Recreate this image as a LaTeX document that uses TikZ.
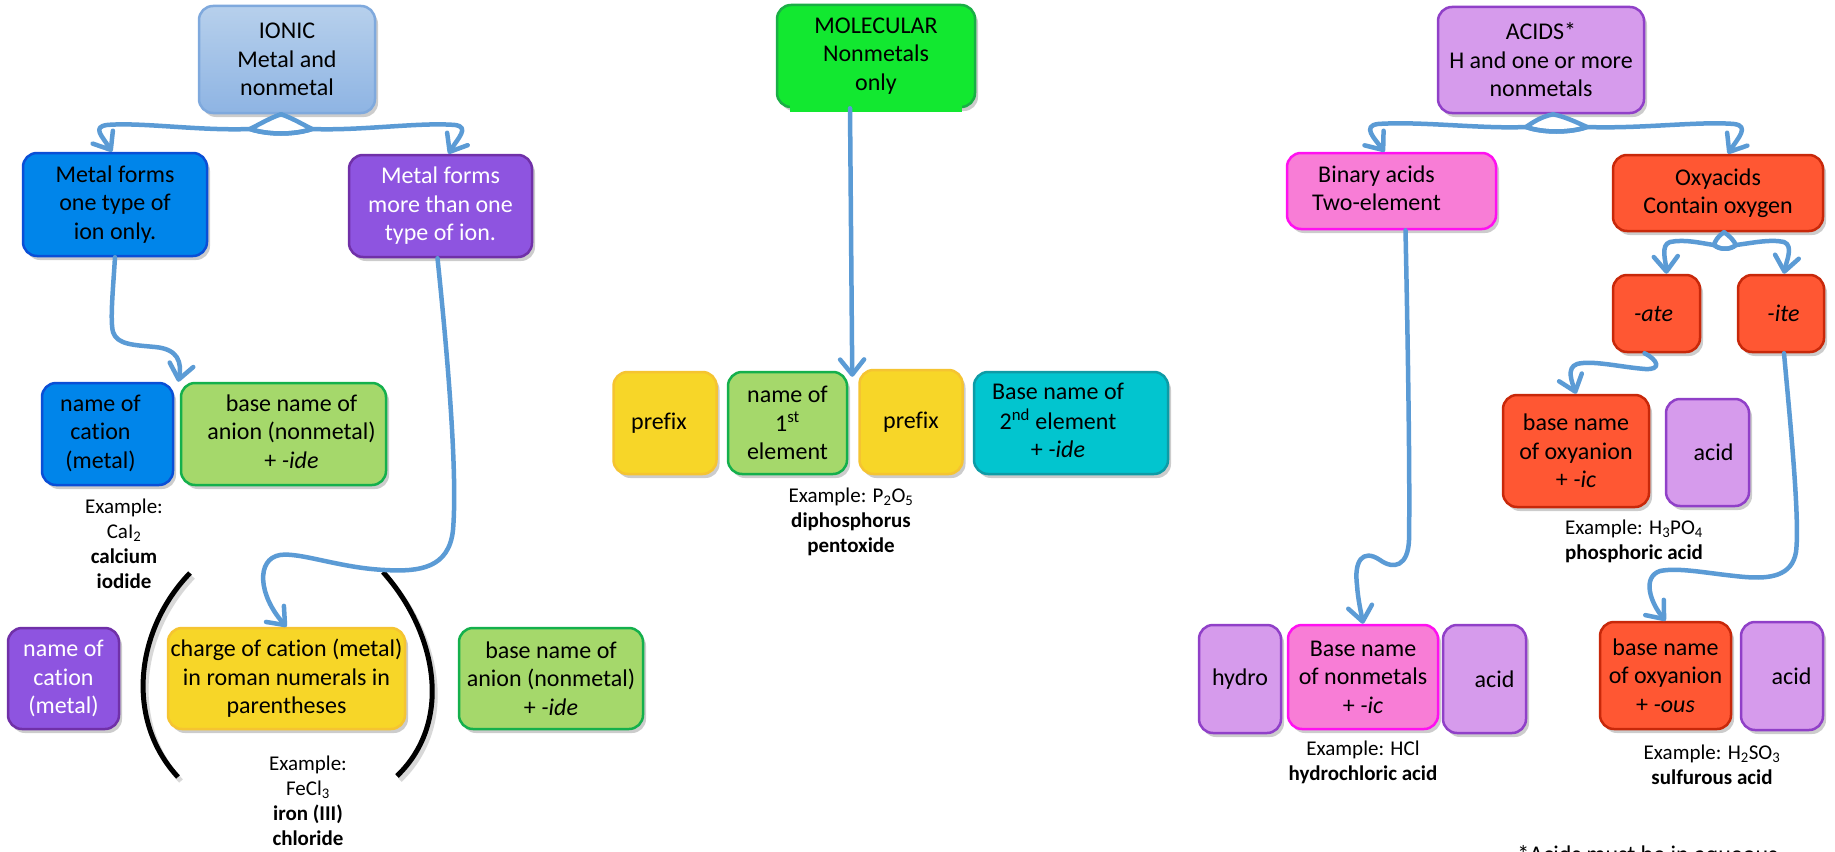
\documentclass[tikz,border=0pt]{standalone}
\usepackage{fontspec}
\setmainfont{Carlito}[Ligatures={TeX,NoCommon}]
\usetikzlibrary{arrows.meta,shadows,calc}
\definecolor{arrowblue}{HTML}{5B9BD5}
\definecolor{ionTop}{HTML}{B7D0EC}
\definecolor{ionBot}{HTML}{8EB4E3}
\definecolor{ionLine}{HTML}{7FA9DD}
\definecolor{bluF}{HTML}{0085EA}
\definecolor{bluL}{HTML}{0A4FD6}
\definecolor{purF}{HTML}{8E54E0}
\definecolor{purL}{HTML}{7030A8}
\definecolor{grnF}{HTML}{A5D86B}
\definecolor{grnL}{HTML}{14B04C}
\definecolor{yelF}{HTML}{F7D628}
\definecolor{yelL}{HTML}{F5C431}
\definecolor{molF}{HTML}{12E830}
\definecolor{molL}{HTML}{1AAE45}
\definecolor{cyaF}{HTML}{02C5CF}
\definecolor{cyaL}{HTML}{0E9BA6}
\definecolor{lavF}{HTML}{D69BEC}
\definecolor{lavL}{HTML}{9040C8}
\definecolor{pnkF}{HTML}{F87DD6}
\definecolor{pnkL}{HTML}{FF10F0}
\definecolor{orgF}{HTML}{FF5733}
\definecolor{orgL}{HTML}{C8280A}
\tikzset{
  box/.style={draw, rounded corners=14pt, line width=2.5pt, align=center, inner sep=1pt,
    font=\fontsize{24}{28.5}\selectfont,
    drop shadow={shadow xshift=3pt, shadow yshift=-4pt, opacity=0.2, fill=black}},
  sz/.style 2 args={minimum width=#1, minimum height=#2},
  ionicbox/.style={box, top color=ionTop, bottom color=ionBot, draw=ionLine},
  bluebox/.style={box, fill=bluF, draw=bluL},
  purbox/.style={box, fill=purF, draw=purL, text=white},
  grnbox/.style={box, fill=grnF, draw=grnL},
  yelbox/.style={box, fill=yelF, draw=yelL},
  molbox/.style={box, fill=molF, draw=molL},
  cyabox/.style={box, fill=cyaF, draw=cyaL},
  lavbox/.style={box, fill=lavF, draw=lavL},
  pnkbox/.style={box, fill=pnkF, draw=pnkL},
  orgbox/.style={box, fill=orgF, draw=orgL},
  ex/.style={align=center, inner sep=0pt, font=\fontsize{21}{25}\selectfont},
  flow/.style={draw=arrowblue, line width=4.5pt, line cap=round, line join=round},
  tip/.style={flow, -{Straight Barb[length=15pt,width=24pt,round]}},
  paren/.style={draw=black, line width=5pt, line cap=butt}
}
\begin{document}
\begin{tikzpicture}[x=1pt,y=-1pt]
\useasboundingbox (0,0) rectangle (1835,851);
\fill[white] (0,0) rectangle (1835,851);
\clip (0,0) rectangle (1835,851);

% ---------- IONIC ----------
\node[ionicbox, sz={176pt}{107pt}] (ionic) at (287,59.5) {IONIC\\Metal and\\nonmetal};
\node[bluebox, sz={184pt}{103pt}] (m1) at (115,204.5) {Metal forms\\one type of\\ion only.};
\node[purbox, sz={183pt}{102pt}] (m2) at (440.5,206) {Metal forms\\more than one\\type of ion.};
\node[bluebox, sz={131pt}{102pt}] (cat1) at (107.5,434) {\begin{tabular}{@{}c@{}}name of\\cation\\(metal)\end{tabular}\hspace*{14pt}};
\node[grnbox, sz={205pt}{102pt}] (an1) at (283.5,434) {\hspace*{16pt}\begin{tabular}{@{}c@{}}base name of\\anion (nonmetal)\\+ \textit{-ide}\end{tabular}};
\node[ex] (ex1) at (124,544) {Example:\\CaI\textsubscript{2}\\\textbf{calcium}\\\textbf{iodide}};
\node[purbox, sz={111pt}{101pt}] (cat2) at (63.5,678.5) {name of\\cation\\(metal)};
\node[yelbox, sz={237pt}{101pt}] (chg) at (286.5,678.5) {charge of cation (metal)\\in roman numerals in\\parentheses};
\node[grnbox, sz={184pt}{101pt}] (an2) at (551,678.5) {base name of\\anion (nonmetal)\\+ \textit{-ide}};
\node[ex] (ex2) at (308,801) {Example:\\FeCl\textsubscript{3}\\\textbf{iron (III)}\\\textbf{chloride}};

% parentheses
\draw[paren, draw=black!25, opacity=0.6] (193,577) .. controls (138,634) and (128,724) .. (181,781);
\draw[paren, draw=black!25, opacity=0.6] (386,576) .. controls (438,634) and (458,724) .. (400,780);
\draw[paren] (190,573) .. controls (135,630) and (125,720) .. (178,777);
\draw[paren] (383,572) .. controls (435,630) and (455,720) .. (397,776);

% ---------- MOLECULAR ----------
\node[molbox, sz={198pt}{102pt}] (mol) at (876,56) {MOLECULAR\\Nonmetals\\only};
\fill[molF] (790,96) rectangle (962,112);
\node[yelbox, sz={103pt}{102pt}] (p1) at (665,423) {prefix\hspace*{12pt}};
\node[grnbox, sz={119pt}{102pt}] (n1) at (787.5,423) {name of\\1\textsuperscript{st}\\element};
\node[yelbox, sz={103pt}{104pt}] (p2) at (911,422) {prefix};
\node[cyabox, sz={194pt}{102pt}] (b2) at (1071,423) {\begin{tabular}{@{}c@{}}Base name of\\2\textsuperscript{nd} element\\+ \textit{-ide}\end{tabular}\hspace*{26pt}};
\node[ex] (ex3) at (851,522) {Example: P\textsubscript{2}O\textsubscript{5}\\\textbf{diphosphorus}\\\textbf{pentoxide}};

% ---------- ACIDS ----------
\node[lavbox, sz={206pt}{106pt}] (acids) at (1541,60) {ACIDS*\\H and one or more\\nonmetals};
\node[pnkbox, sz={209pt}{76pt}] (bin) at (1391.5,191) {\begin{tabular}{@{}c@{}}Binary acids\\Two-element\end{tabular}\hspace*{30pt}};
\node[orgbox, sz={210pt}{76pt}] (oxy) at (1718,193) {Oxyacids\\Contain oxygen};
\node[orgbox, sz={87pt}{77pt}] (ate) at (1656.5,313.5) {\textit{-ate}\hspace*{6pt}};
\node[orgbox, sz={86pt}{77pt}] (ite) at (1781,313.5) {\hspace*{5pt}\textit{-ite}};
\node[orgbox, sz={146pt}{112pt}] (bic) at (1576,451) {base name\\of oxyanion\\+ \textit{-ic}};
\node[lavbox, sz={83pt}{107pt}] (acid1) at (1707.5,452.5) {\hspace*{12pt}acid};
\node[ex] (ex4) at (1634,541) {Example: H\textsubscript{3}PO\textsubscript{4}\\\textbf{phosphoric acid}};
\node[lavbox, sz={82pt}{108pt}] (hydro) at (1240,679) {hydro};
\node[pnkbox, sz={150pt}{104pt}] (bnm) at (1363,677) {Base name\\of nonmetals\\+ \textit{-ic}};
\node[lavbox, sz={83pt}{108pt}] (acid2) at (1484.5,679) {\hspace*{20pt}acid};
\node[ex] (ex5) at (1363,762) {Example: HCl\\\textbf{hydrochloric acid}};
\node[orgbox, sz={131pt}{107pt}] (bous) at (1665.5,675.5) {base name\\of oxyanion\\+ \textit{-ous}};
\node[lavbox, sz={82pt}{108pt}] (acid3) at (1782,676) {\hspace*{19pt}acid};
\node[ex] (ex6) at (1712,765) {Example: H\textsubscript{2}SO\textsubscript{3}\\\textbf{sulfurous acid}};
\node[anchor=base, inner sep=0pt, font=\fontsize{24}{28.5}\selectfont] (foot) at (1647.5,862) {*Acids must be in aqueous};

% ---------- connectors ----------
\coordinate (ip) at ([xshift=-6pt]ionic.south);
\draw[tip] (ip) .. controls (292,118) and (302,124) .. (312,129) .. controls (294,135) and (268,135) .. (250,129)
  .. controls (200,131) and (140,122) .. (107,125) .. controls (92,127) and (102,136) .. ([xshift=-3pt]m1.north);
\draw[tip] (ip) .. controls (270,118) and (260,124) .. (250,129) .. controls (268,135) and (294,135) .. (312,129)
  .. controls (360,131) and (420,122) .. (455,125) .. controls (470,127) and (458,138) .. ([xshift=8pt]m2.north);
\draw[tip] (m1.south) .. controls (113,290) and (110,320) .. (113,332) .. controls (117,345) and (135,345) .. (155,347)
  .. controls (178,349) and (182,362) .. ([xshift=4pt]cat1.north east);
\draw[tip] ([xshift=-3pt]m2.south) .. controls (446,340) and (458,470) .. (453,530) .. controls (449,568) and (420,572) .. (385,570)
  .. controls (340,568) and (300,552) .. (280,555) .. controls (256,559) and (258,595) .. (chg.north);

\draw[tip] ([xshift=-26pt]mol.south) -- ([xshift=4pt,yshift=-6pt]n1.north east);

\coordinate (ap) at ([xshift=12pt]acids.south);
\draw[tip] (ap) .. controls (1566,117) and (1578,123) .. (1587,127) .. controls (1570,133) and (1543,133) .. (1526,127)
  .. controls (1480,129) and (1420,121) .. (1378,124) .. controls (1362,126) and (1374,138) .. ([xshift=-7pt]bin.north);
\draw[tip] (ap) .. controls (1540,117) and (1532,123) .. (1526,127) .. controls (1543,133) and (1570,133) .. (1587,127)
  .. controls (1640,129) and (1700,121) .. (1734,124) .. controls (1750,126) and (1738,138) .. ([xshift=10pt]oxy.north);

\coordinate (op) at ([xshift=6pt]oxy.south);
\draw[tip] (op) .. controls (1730,236) and (1734,241) .. (1736,245) .. controls (1730,250) and (1720,250) .. (1714,245)
  .. controls (1700,243) and (1685,239) .. (1670,242) .. controls (1660,245) and (1666,262) .. ([xshift=10pt]ate.north);
\draw[tip] (op) .. controls (1718,236) and (1715,241) .. (1714,245) .. controls (1720,250) and (1730,250) .. (1736,245)
  .. controls (1752,243) and (1770,239) .. (1784,242) .. controls (1794,246) and (1786,262) .. ([xshift=3pt]ite.north);

\draw[tip] ([xshift=-12pt]ate.south) .. controls (1658,360) and (1662,370) .. (1645,369) .. controls (1620,367) and (1592,360) .. (1577,364)
  .. controls (1566,368) and (1572,382) .. (bic.north);
\draw[tip] ([xshift=14pt]bin.south) .. controls (1408,350) and (1410,480) .. (1409,540) .. controls (1408,566) and (1394,570) .. (1380,560)
  .. controls (1362,548) and (1354,562) .. (1357,585) .. controls (1358,600) and (1361,612) .. (bnm.north);
\draw[tip] ([xshift=3pt]ite.south) .. controls (1790,420) and (1800,520) .. (1796,552) .. controls (1792,576) and (1770,579) .. (1745,577)
  .. controls (1710,574) and (1680,567) .. (1660,571) .. controls (1642,577) and (1650,602) .. (bous.north);
\end{tikzpicture}
\end{document}
